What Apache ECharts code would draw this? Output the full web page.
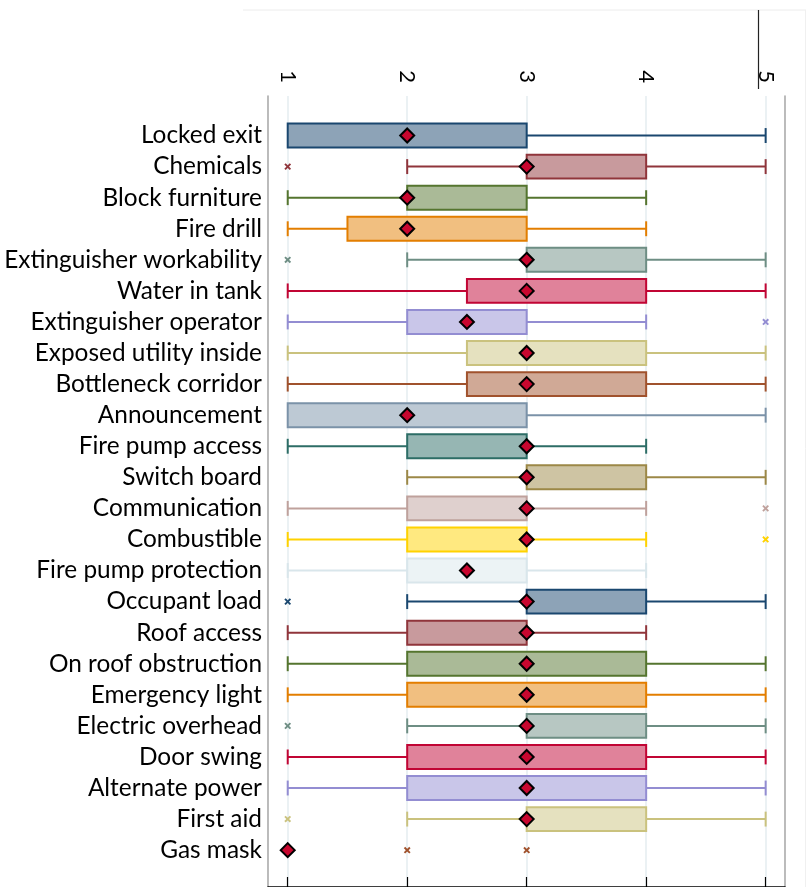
<!DOCTYPE html>
<html>
<head>
<meta charset="utf-8">
<script src="https://cdn.jsdelivr.net/npm/echarts@6/dist/echarts.min.js"></script>
<style>
  html, body { margin: 0; padding: 0; background: #ffffff; }
  #chart { width: 811px; height: 887px; }
</style>
</head>
<body>
<div id="chart"></div>
<script>
// Survey items, listed top to bottom
const categories = [
  'Locked exit', 'Chemicals', 'Block furniture', 'Fire drill',
  'Extinguisher workability', 'Water in tank', 'Extinguisher operator',
  'Exposed utility inside', 'Bottleneck corridor', 'Announcement',
  'Fire pump access', 'Switch board', 'Communication', 'Combustible',
  'Fire pump protection', 'Occupant load', 'Roof access',
  'On roof obstruction', 'Emergency light', 'Electric overhead',
  'Door swing', 'Alternate power', 'First aid', 'Gas mask'
];

// Five-number summaries per item (score scale 1–5)
const whiskerLow  = [1, 2, 1, 1,   2, 1,   1, 1,   1,   1, 1, 2, 1, 1, 1, 2, 1, 1, 1, 2, 1, 1, 2, 1];
const boxLow      = [1, 3, 2, 1.5, 3, 2.5, 2, 2.5, 2.5, 1, 2, 3, 2, 2, 2, 3, 2, 2, 2, 3, 2, 2, 3, 1];
const centre      = [2, 3, 2, 2,   3, 3,   2.5, 3, 3,   2, 3, 3, 3, 3, 2.5, 3, 3, 3, 3, 3, 3, 3, 3, 1];
const boxHigh     = [3, 4, 3, 3,   4, 4,   3, 4,   4,   3, 3, 4, 3, 3, 3, 4, 3, 4, 4, 4, 4, 4, 4, 1];
const whiskerHigh = [5, 5, 4, 4,   5, 5,   4, 5,   5,   5, 4, 5, 4, 4, 4, 5, 4, 5, 5, 5, 5, 5, 5, 1];

// Outside values as [item index, score]
const outsideValues = [
  [1, 1], [4, 1], [6, 5], [12, 5], [13, 5], [15, 1], [19, 1], [22, 1], [23, 2], [23, 3]
];

const axisTicks = [1, 2, 3, 4, 5];

// Stata s2color cycle
const palette = [
  '#1a476f', '#90353b', '#55752f', '#e37e00', '#6e8e84', '#c10534',
  '#938dd2', '#cac27e', '#a0522d', '#7b92a8', '#2d6d66', '#9c8847',
  '#bfa19c', '#ffd200', '#d9e6eb'
];
const colorOf = i => palette[i % palette.length];
function lighten(hex) {
  const n = parseInt(hex.slice(1), 16);
  const r = (n >> 16) & 255, g = (n >> 8) & 255, b = n & 255;
  const m = v => Math.round((v + 255) / 2);
  return 'rgb(' + m(r) + ',' + m(g) + ',' + m(b) + ')';
}

const X_MIN = 0.835, X_MAX = 5.162;
const FONT = 'Lato, "Open Sans", sans-serif';

const boxData = categories.map((c, i) => [whiskerLow[i], boxLow[i], boxHigh[i], whiskerHigh[i], i]);
const centreData = categories.map((c, i) => [centre[i], i]);
const outsideData = outsideValues.map(d => [d[1], d[0]]);

function renderBox(params, api) {
  const row = api.value(4);
  const wl = api.value(0), q1 = api.value(1), q3 = api.value(2), wh = api.value(3);
  const y = api.coord([wl, row])[1];
  const band = api.size([0, 1])[1];
  const boxH = band * 0.77;
  const capH = band * 0.48;
  const col = colorOf(row);
  const px = v => api.coord([v, row])[0];
  const lineStyle = { stroke: col, lineWidth: 2, fill: null };
  const children = [];
  if (wl < q1) {
    children.push({ type: 'line', shape: { x1: px(wl), y1: y, x2: px(q1), y2: y }, style: lineStyle });
    children.push({ type: 'line', shape: { x1: px(wl), y1: y - capH / 2, x2: px(wl), y2: y + capH / 2 }, style: lineStyle });
  }
  if (wh > q3) {
    children.push({ type: 'line', shape: { x1: px(q3), y1: y, x2: px(wh), y2: y }, style: lineStyle });
    children.push({ type: 'line', shape: { x1: px(wh), y1: y - capH / 2, x2: px(wh), y2: y + capH / 2 }, style: lineStyle });
  }
  if (q3 > q1) {
    children.push({
      type: 'rect',
      shape: { x: px(q1), y: y - boxH / 2, width: px(q3) - px(q1), height: boxH },
      style: { fill: lighten(col), stroke: col, lineWidth: 2 }
    });
  }
  return { type: 'group', children };
}

function renderOutside(params, api) {
  const row = api.value(1);
  const p = api.coord([api.value(0), row]);
  const s = 2.7;
  const style = { stroke: colorOf(row), lineWidth: 1.9 };
  return {
    type: 'group',
    children: [
      { type: 'line', shape: { x1: p[0] - s, y1: p[1] - s, x2: p[0] + s, y2: p[1] + s }, style },
      { type: 'line', shape: { x1: p[0] - s, y1: p[1] + s, x2: p[0] + s, y2: p[1] - s }, style }
    ]
  };
}

const chart = echarts.init(document.getElementById('chart'), null, { renderer: 'canvas' });
chart.setOption({
  animation: false,
  backgroundColor: '#ffffff',
  grid: [
    { left: 268, top: 96, width: 517, height: 791 },
    { left: 268, top: 120, width: 517, height: 745.7 }
  ],
  xAxis: [
    {
      gridIndex: 0, type: 'value', position: 'top', min: X_MIN, max: X_MAX,
      axisLine: { show: true, lineStyle: { color: '#000', width: 1.5 } },
      axisTick: { show: true, length: 10, customValues: axisTicks, lineStyle: { color: '#000', width: 1.2 } },
      axisLabel: {
        customValues: axisTicks, rotate: -90, margin: 13,
        fontSize: 22, fontFamily: FONT, color: '#000'
      },
      splitLine: { show: true, lineStyle: { color: '#e6eef1', width: 1.6 } }
    },
    {
      gridIndex: 1, type: 'value', min: X_MIN, max: X_MAX, show: false
    }
  ],
  yAxis: [
    {
      gridIndex: 0, type: 'value', min: 0, max: 1, position: 'left',
      axisLine: { show: true, lineStyle: { color: '#ababab', width: 1.6 } },
      axisTick: { show: false }, axisLabel: { show: false }, splitLine: { show: false }
    },
    {
      gridIndex: 0, type: 'value', min: 0, max: 1, position: 'right',
      axisLine: { show: true, lineStyle: { color: '#ababab', width: 1.6 } },
      axisTick: { show: false }, axisLabel: { show: false }, splitLine: { show: false }
    },
    {
      gridIndex: 1, type: 'category', data: categories, inverse: true,
      axisLine: { show: false }, axisTick: { show: false }, splitLine: { show: false },
      axisLabel: { interval: 0, hideOverlap: false, margin: 6, fontSize: 24.4, fontFamily: FONT, color: '#000' }
    }
  ],
  graphic: [
    { type: 'line', shape: { x1: 243, y1: 10, x2: 806, y2: 10 }, style: { stroke: '#ececec', lineWidth: 1 } },
    { type: 'line', shape: { x1: 805.5, y1: 10, x2: 805.5, y2: 887 }, style: { stroke: '#f0f0f0', lineWidth: 1 } },
    { type: 'line', shape: { x1: 758.5, y1: 10, x2: 758.5, y2: 89 }, style: { stroke: '#222', lineWidth: 1.2 } }
  ],
  series: [
    {
      type: 'custom', xAxisIndex: 1, yAxisIndex: 2, data: boxData,
      renderItem: renderBox, encode: { x: [0, 1, 2, 3], y: 4 }, z: 2, clip: false
    },
    {
      type: 'custom', xAxisIndex: 1, yAxisIndex: 2, data: outsideData,
      renderItem: renderOutside, encode: { x: 0, y: 1 }, z: 3, clip: false
    },
    {
      type: 'scatter', xAxisIndex: 1, yAxisIndex: 2, data: centreData,
      symbol: 'diamond', symbolSize: 14, z: 4,
      itemStyle: { color: '#c8072f', borderColor: '#000', borderWidth: 2, opacity: 1 }
    }
  ]
});
</script>
</body>
</html>
